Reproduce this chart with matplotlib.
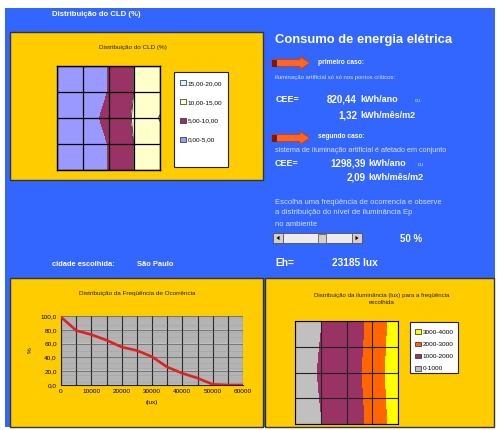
import numpy as np
import matplotlib
matplotlib.use("Agg")
import matplotlib.pyplot as plt
import matplotlib.patches as mpatches

plt.rcParams['font.family'] = ['Liberation Sans', 'DejaVu Sans']

# ---- data ----
# CLD distribution (%) on a 5x5 grid (rows bottom -> top, columns left -> right)
cld_levels = [0, 5, 10, 15, 20]
cld_labels = ["0,00-5,00", "5,00-10,00", "10,00-15,00", "15,00-20,00"]
cld_grid = [
    [1.0, 2.5, 5.1, 10.1, 13.0],
    [1.0, 2.5, 5.1, 10.1, 13.0],
    [1.2, 3.0, 6.1, 10.5, 15.3],
    [1.0, 2.5, 5.1, 10.1, 13.0],
    [1.0, 2.5, 5.1, 10.1, 13.0],
]

# frequency of occurrence (%) versus illuminance (lux)
freq_lux = [0, 5000, 10000, 15000, 20000, 25000, 30000, 35000, 40000, 45000, 50000, 55000, 60000]
freq_pct = [98.5, 79, 73, 65, 55, 50, 41, 26, 17, 10, 1, 0, 0]
freq_yticks = [0, 20, 40, 60, 80, 100]
freq_xticks = [0, 10000, 20000, 30000, 40000, 50000, 60000]

# illuminance distribution (lux) for the chosen frequency
lux_levels = [0, 1000, 2000, 3000, 4000]
lux_labels = ["0-1000", "1000-2000", "2000-3000", "3000-4000"]
lux_grid = [
    [400, 960, 1700, 2117, 3590],
    [420, 1030, 1750, 2125, 3700],
    [450, 1090, 1800, 2133, 3870],
    [420, 1030, 1750, 2125, 3700],
    [400, 960, 1700, 2117, 3590],
]

# energy results
cee1_ano, cee1_mes = "820,44", "1,32"
cee2_ano, cee2_mes = "1298,39", "2,09"
freq_sel = "50 %"
eh_value = "23185 lux"
cidade = "São Paulo"

# ---- styling ----
W, H = 497, 430
BLUE = "#3366ff"
YELLOW = "#ffcc00"
cld_colors = ["#9999ff", "#993366", "#ffffcc", "#ccffff"]
lux_colors = ["#c0c0c0", "#993366", "#ff6600", "#ffff00"]

fig = plt.figure(figsize=(W / 100, H / 100), dpi=100)
fig.patch.set_facecolor("white")


def px_axes(x0, y0, x1, y1, **kw):
    return fig.add_axes([x0 / W, 1 - y1 / H, (x1 - x0) / W, (y1 - y0) / H], **kw)


bg = fig.add_axes([0, 0, 1, 1])
bg.set_xlim(0, W)
bg.set_ylim(H, 0)
bg.axis("off")


def rect(ax, x0, y0, x1, y1, fc, ec="none", lw=1.0, z=1):
    ax.add_patch(mpatches.Rectangle((x0, y0), x1 - x0, y1 - y0, facecolor=fc,
                                    edgecolor=ec, linewidth=lw, zorder=z))


# background panels
rect(bg, 5, 8, 495, 427, BLUE)
rect(bg, 10, 32, 263, 180, YELLOW, "#333333", 1.0, 2)
rect(bg, 10, 278, 263, 427, YELLOW, "#333333", 1.0, 2)
rect(bg, 265, 278, 494, 427, YELLOW, "#333333", 1.0, 2)

WHITE = "white"
LIGHT = "#d8e0ff"

bg.text(52, 15, "Distribuição do CLD (%)", color=WHITE, fontsize=5.6, fontweight="bold", va="center")
bg.text(52, 265, "cidade escolhida:", color=WHITE, fontsize=5.4, fontweight="bold", va="center")
bg.text(137, 265, cidade, color=WHITE, fontsize=5.4, fontweight="bold", va="center")

# right side texts
bg.text(275, 40, "Consumo de energia elétrica", color=WHITE, fontsize=9.4, fontweight="bold", va="center")


def arrow(y):
    bg.add_patch(mpatches.FancyArrow(272, y, 28, 0, width=7, head_width=13, head_length=10,
                                     length_includes_head=False, facecolor="#ff6622",
                                     edgecolor="#cc3300", linewidth=0.5, zorder=3))
    rect(bg, 272, y - 3.5, 277, y + 3.5, "#7a1a00", z=4)


NUM = 7.0
UNIT = 6.5

arrow(63)
bg.text(318, 62, "primeiro caso:", color=WHITE, fontsize=4.8, fontweight="bold", va="center")
bg.text(275, 77, "iluminação artificial só só nos pontos críticos:", color=LIGHT, fontsize=4.3, va="center")
bg.text(276, 100, "CEE=", color=WHITE, fontsize=6.5, fontweight="bold", va="center")
bg.text(357, 100, cee1_ano, color=WHITE, fontsize=NUM, fontweight="bold", va="center", ha="right")
bg.text(360, 100, "kWh/ano", color=WHITE, fontsize=UNIT, fontweight="bold", va="center")
bg.text(415, 101, "ou", color=LIGHT, fontsize=3.8, va="center")
bg.text(357, 115, cee1_mes, color=WHITE, fontsize=NUM, fontweight="bold", va="center", ha="right")
bg.text(360, 115, "kWh/mês/m2", color=WHITE, fontsize=UNIT, fontweight="bold", va="center")

arrow(138)
bg.text(318, 137, "segundo caso:", color=WHITE, fontsize=4.8, fontweight="bold", va="center")
bg.text(275, 151, "sistema de iluminação artificial é afetado em conjunto", color=LIGHT, fontsize=5.2, va="center")
bg.text(275, 164, "CEE=", color=WHITE, fontsize=6.5, fontweight="bold", va="center")
bg.text(366, 164, cee2_ano, color=WHITE, fontsize=NUM, fontweight="bold", va="center", ha="right")
bg.text(368, 164, "kWh/ano", color=WHITE, fontsize=UNIT, fontweight="bold", va="center")
bg.text(418, 165, "ou", color=LIGHT, fontsize=3.8, va="center")
bg.text(366, 178, cee2_mes, color=WHITE, fontsize=NUM, fontweight="bold", va="center", ha="right")
bg.text(368, 178, "kWh/mês/m2", color=WHITE, fontsize=UNIT, fontweight="bold", va="center")

bg.text(275, 202, "Escolha uma freqüência de ocorrencia e observe", color=LIGHT, fontsize=5.5, va="center")
bg.text(275, 213, "a distribuição do nível de iluminância Ep", color=LIGHT, fontsize=5.5, va="center")
bg.text(275, 225, "no ambiente", color=LIGHT, fontsize=5.5, va="center")

# scroll bar
rect(bg, 273, 233, 362, 243, "#ececec", "#505050", 0.6, 3)
rect(bg, 273, 233, 283, 243, "#d4d0c8", "#505050", 0.6, 4)
rect(bg, 352, 233, 362, 243, "#d4d0c8", "#505050", 0.6, 4)
rect(bg, 318, 233.5, 326, 242.5, "#d4d0c8", "#606060", 0.6, 4)
bg.add_patch(mpatches.Polygon([[276.5, 238], [279.5, 235.8], [279.5, 240.2]], closed=True,
                              facecolor="black", zorder=5))
bg.add_patch(mpatches.Polygon([[358.5, 238], [355.5, 235.8], [355.5, 240.2]], closed=True,
                              facecolor="black", zorder=5))
bg.text(400, 239, freq_sel, color=WHITE, fontsize=7, fontweight="bold", va="center")

bg.text(275, 263, "Eh=", color=WHITE, fontsize=7.3, fontweight="bold", va="center")
bg.text(332, 263, eh_value, color=WHITE, fontsize=7.3, fontweight="bold", va="center")

# ---- CLD surface chart ----
bg.text(133, 47, "Distribuição do CLD (%)", color="#222222", fontsize=4.6, ha="center", va="center")
ax1 = px_axes(57, 66, 160, 170)
gx = np.arange(5)
ax1.contourf(gx, gx, np.array(cld_grid), levels=cld_levels, colors=cld_colors, antialiased=False)
ax1.contour(gx, gx, np.array(cld_grid), levels=cld_levels[2:4], colors="#222222", linewidths=0.6)
for v in gx:
    ax1.axvline(v, color="black", lw=0.9)
    ax1.axhline(v, color="black", lw=0.9)
ax1.set_xlim(0, 4)
ax1.set_ylim(0, 4)
ax1.set_xticks([])
ax1.set_yticks([])
for s in ax1.spines.values():
    s.set_linewidth(1.0)

rect(bg, 174, 72, 228, 167, "white", "#222222", 0.8, 3)
h1 = [mpatches.Patch(facecolor=c, edgecolor="#222222", linewidth=0.5) for c in cld_colors]
fig.legend(h1[::-1], cld_labels[::-1], loc="upper left",
           bbox_to_anchor=(176 / W, 1 - 76 / H), frameon=False, fontsize=4.6,
           handlelength=0.8, handleheight=0.8, handletextpad=0.3, labelspacing=2.05,
           borderpad=0.2)

# ---- frequency of occurrence chart ----
bg.text(137, 294, "Distribuição da Freqüência de Ocorrência", color="#222222", fontsize=4.6,
        ha="center", va="center")
ax2 = px_axes(61, 316, 243, 385)
ax2.set_facecolor("#c0c0c0")
ax2.set_xlim(0, 60000)
ax2.set_ylim(0, 100)
ax2.set_yticks(np.arange(0, 100.1, 2.5), minor=True)
ax2.set_xticks(np.arange(0, 60001, 5000), minor=True)
ax2.grid(True, which="minor", axis="y", color="#8a8a8a", lw=0.3)
ax2.grid(True, which="minor", axis="x", color="#111111", lw=0.8)
ax2.grid(True, which="major", axis="x", color="#111111", lw=0.8)
ax2.grid(True, which="major", axis="y", color="#555555", lw=0.5)
ax2.set_axisbelow(True)
ax2.plot(freq_lux, freq_pct, color="#dd2222", lw=1.9, zorder=3)
ax2.set_yticks(freq_yticks)
ax2.set_yticklabels([f"{v:.1f}".replace(".", ",") for v in freq_yticks])
ax2.set_xticks(freq_xticks)
ax2.set_xticklabels([str(v) for v in freq_xticks])
ax2.tick_params(axis="both", which="both", labelsize=4.6, length=0, pad=3)
for s in ["top", "right"]:
    ax2.spines[s].set_visible(False)
ax2.spines["left"].set_color("#222222")
ax2.spines["bottom"].set_color("#222222")
ax2.set_xlabel("(lux)", fontsize=4.6, labelpad=4)
ax2.set_ylabel("%", fontsize=4.6, rotation=90, labelpad=6)

# ---- illuminance distribution chart ----
bg.text(382, 295, "Distribuição da iluminância (lux) para a freqüência", color="#222222",
        fontsize=4.4, ha="center", va="center")
bg.text(382, 303, "escolhida", color="#222222", fontsize=4.4, ha="center", va="center")
ax3 = px_axes(295, 321, 398, 424)
ax3.contourf(gx, gx, np.array(lux_grid), levels=lux_levels, colors=lux_colors, antialiased=False)
for v in gx:
    ax3.axvline(v, color="#222222", lw=0.8)
    ax3.axhline(v, color="#222222", lw=0.8)
ax3.set_xlim(0, 4)
ax3.set_ylim(0, 4)
ax3.set_xticks([])
ax3.set_yticks([])

rect(bg, 410, 322, 458, 373, "white", "#222222", 0.8, 3)
h3 = [mpatches.Patch(facecolor=c, edgecolor="#222222", linewidth=0.5) for c in lux_colors]
fig.legend(h3[::-1], lux_labels[::-1], loc="upper left",
           bbox_to_anchor=(411 / W, 1 - 325 / H), frameon=False, fontsize=4.6,
           handlelength=0.8, handleheight=0.8, handletextpad=0.3, labelspacing=1.0,
           borderpad=0.2)

fig.savefig("out.png", dpi=100)
